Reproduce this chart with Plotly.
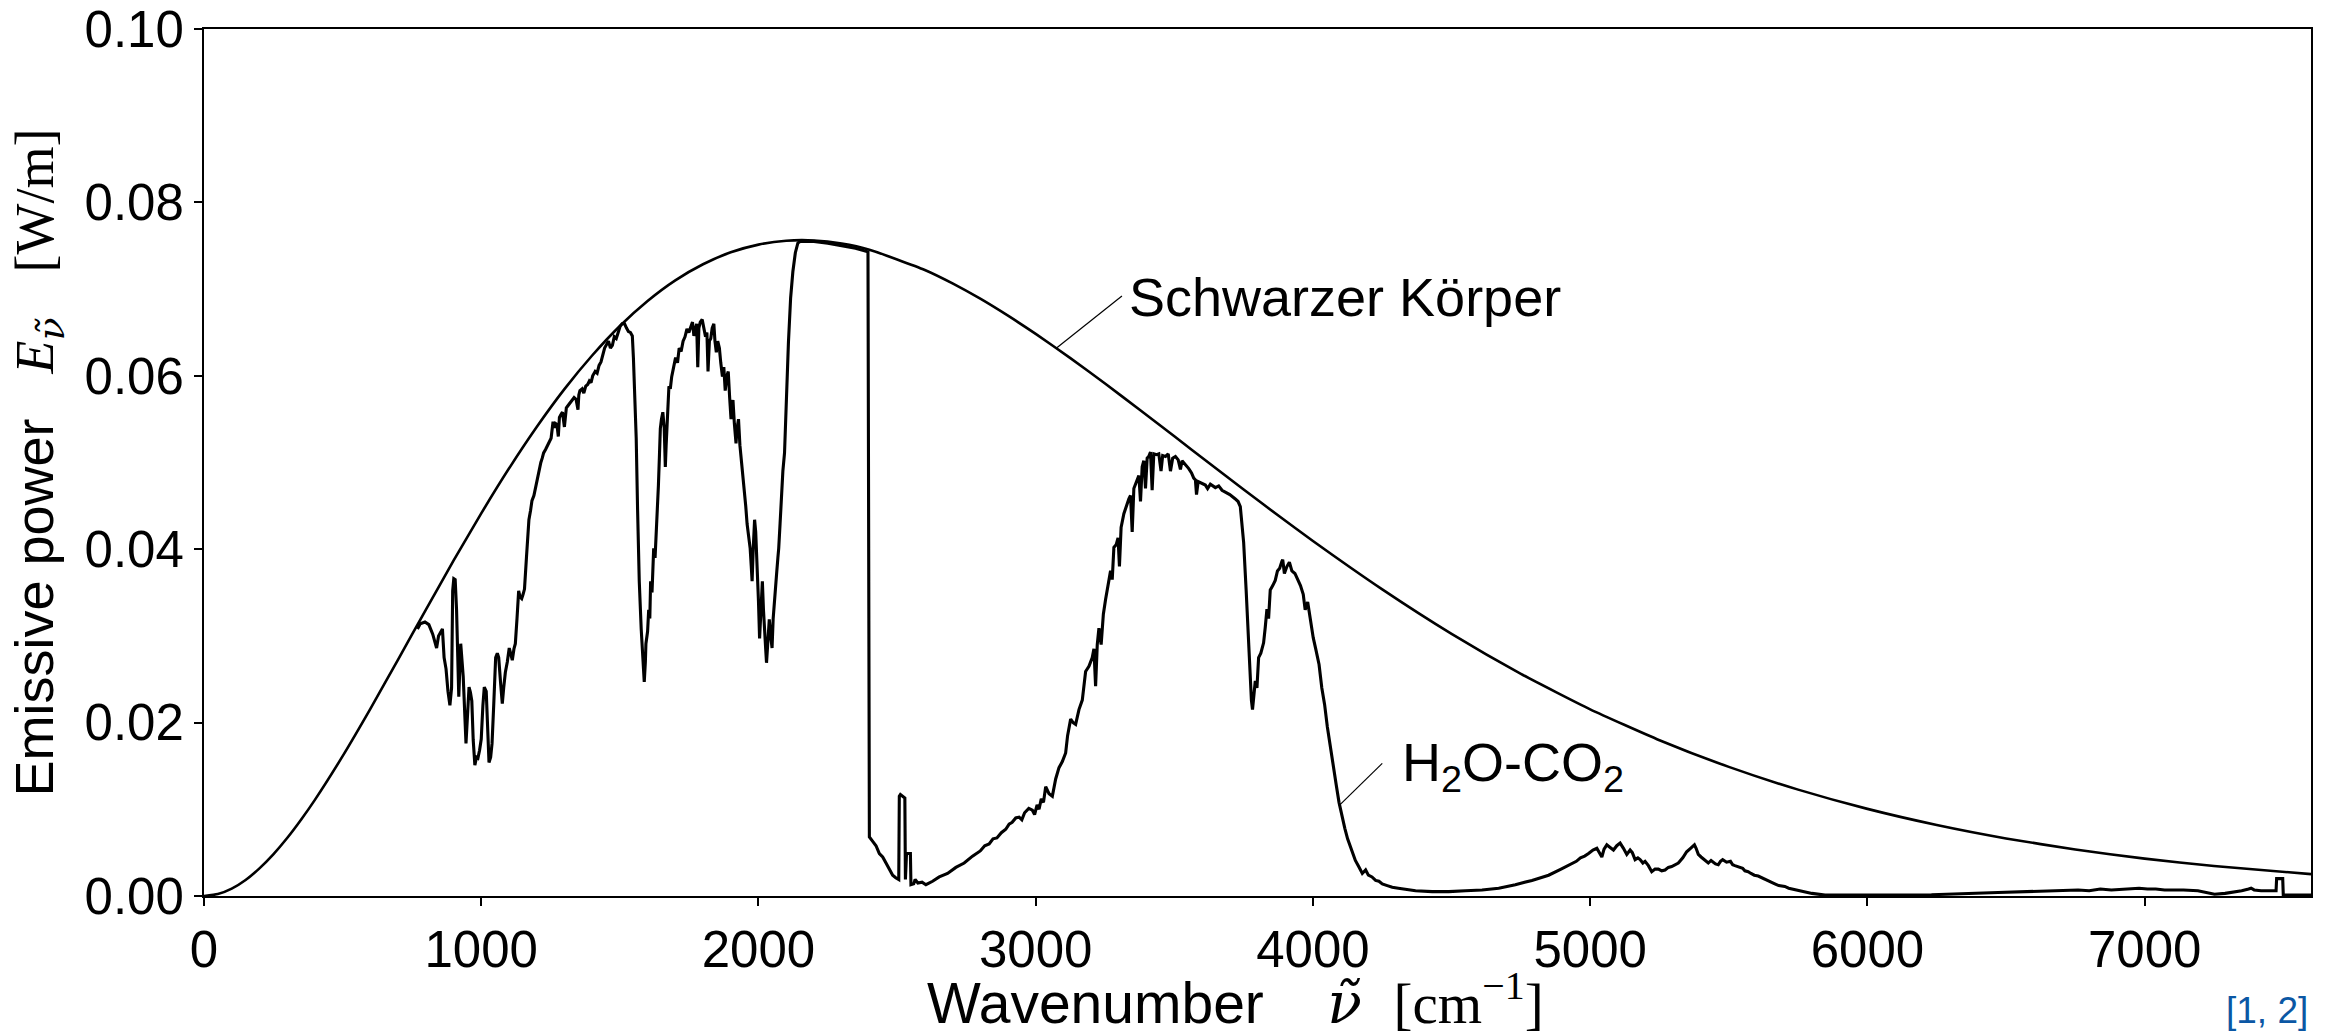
import numpy as np
import plotly.graph_objects as go

# Black body emissive power (T about 1100 K), wavenumber in cm^-1
bb_wn = [0, 50, 100, 150, 200, 250, 300, 350, 400, 500, 600, 700, 800, 900, 1000, 1100,
         1200, 1300, 1400, 1500, 1600, 1700, 1800, 1900, 2000, 2100, 2200, 2300, 2400,
         2600, 2700, 2800, 2900, 3000, 3125, 3250, 3375, 3500, 3625, 3750, 3875, 4000,
         4250, 4500, 4750, 5000, 5250, 5500, 5750, 6000, 6250, 6500, 6750, 7000, 7250,
         7600]
bb_E = [0.0, 0.00022, 0.00085, 0.00185, 0.00319, 0.00481, 0.00669, 0.00880, 0.01109,
        0.01613, 0.02158, 0.02727, 0.03301, 0.03867, 0.04413, 0.04930, 0.05409, 0.05846,
        0.06234, 0.06575, 0.06863, 0.07101, 0.07287, 0.07424, 0.07513, 0.07558, 0.07561,
        0.07526, 0.07455, 0.07221, 0.07066, 0.06889, 0.06693, 0.06483, 0.06204, 0.05911,
        0.05608, 0.05302, 0.04994, 0.04688, 0.04388, 0.04094, 0.03536, 0.03023, 0.02562,
        0.02153, 0.01797, 0.01489, 0.01227, 0.01005, 0.00819, 0.00664, 0.00536, 0.00431,
        0.00346, 0.00252]

# H2O-CO2 gas mixture emission spectrum, (wavenumber, emissive power) per band
gas_band_1000 = [
    (770, .0308), (780, .0314), (797, .0316), (811, .0313), (825, .0302), (839, .0286),
    (846, .0300), (853, .0305), (860, .0308), (866, .0275), (873, .0262), (880, .0236),
    (887, .0220), (893, .0240), (897, .0352), (901, .0366), (906, .0365), (911, .0330),
    (919, .0230), (926, .0291), (935, .0253), (945, .0176), (951, .0215), (956, .0241),
    (961, .0235), (966, .0225), (971, .0180), (977, .0151), (983, .0160), (988, .0159),
    (994, .0168), (1000, .0181), (1006, .0220), (1011, .0241), (1018, .0236), (1023, .0190),
    (1028, .0154), (1034, .0160), (1039, .0176), (1045, .0220), (1052, .0275), (1058, .0280),
    (1063, .0275), (1070, .0245), (1076, .0222), (1081, .0240), (1087, .0258), (1094, .0270),
    (1101, .0286), (1106, .0280), (1112, .0272), (1118, .0285), (1123, .0291), (1129, .0320),
    (1135, .0352), (1140, .0345), (1146, .0343), (1151, .0348), (1156, .0354)]
gas_band_1300 = [
    (1163, .0390), (1172, .0434), (1178, .0445), (1183, .0456), (1190, .0462), (1197, .0473),
    (1206, .0488), (1215, .0500), (1220, .0505), (1225, .0511), (1232, .0515), (1239, .0519),
    (1245, .0524), (1252, .0528), (1259, .0547), (1264, .0540), (1268, .0545), (1273, .0544),
    (1278, .0530), (1282, .0552), (1287, .0555), (1293, .0558), (1300, .0541), (1303, .0556),
    (1307, .0563), (1314, .0566), (1321, .0569), (1328, .0572), (1335, .0575), (1342, .0573),
    (1349, .0561), (1352, .0578), (1356, .0583), (1364, .0585), (1370, .0580), (1377, .0588),
    (1384, .0590), (1390, .0594), (1396, .0592), (1402, .0600), (1411, .0605), (1418, .0603),
    (1425, .0612), (1432, .0616), (1438, .0624), (1445, .0632), (1452, .0636), (1459, .0640),
    (1466, .0632), (1473, .0635), (1480, .0645), (1487, .0643), (1494, .0650), (1501, .0657),
    (1508, .0660), (1517, .0660), (1524, .0655), (1531, .0651), (1538, .0650), (1545, .0646)]
gas_band_1800 = [
    (1549, .0620), (1553, .0583), (1556, .0560), (1559, .0528), (1564, .0445), (1570, .0363),
    (1577, .0308), (1583, .0275), (1588, .0247), (1592, .0270), (1594, .0291), (1600, .0305),
    (1604, .0330), (1608, .0320), (1611, .0363), (1616, .0350), (1622, .0401), (1627, .0390),
    (1632, .0420), (1636, .0440), (1639, .0473), (1643, .0510), (1646, .0539), (1650, .0550),
    (1655, .0558), (1660, .0540), (1664, .0495), (1667, .0520), (1669, .0539), (1673, .0570),
    (1677, .0588), (1682, .0585), (1687, .0599), (1694, .0610), (1701, .0621), (1708, .0615),
    (1714, .0632), (1721, .0628), (1728, .0640), (1735, .0645), (1742, .0654), (1749, .0650),
    (1756, .0657), (1762, .0662), (1767, .0646), (1772, .0655), (1777, .0660), (1781, .0610),
    (1785, .0655), (1790, .0662), (1797, .0665), (1803, .0655), (1809, .0645), (1814, .0650),
    (1818, .0605), (1823, .0640), (1828, .0643), (1833, .0655), (1839, .0660), (1843, .0640),
    (1848, .0627), (1853, .0640), (1859, .0632), (1864, .0615), (1870, .0599), (1875, .0610),
    (1880, .0583), (1886, .0600), (1891, .0605), (1896, .0575), (1901, .0550), (1905, .0565),
    (1908, .0572), (1913, .0545), (1919, .0522), (1923, .0540), (1928, .0550), (1933, .0520),
    (1939, .0500), (1944, .0490), (1949, .0473), (1954, .0450), (1959, .0429), (1964, .0415),
    (1970, .0401), (1974, .0380), (1977, .0363), (1981, .0400), (1986, .0434), (1990, .0420),
    (1995, .0385), (2000, .0340), (2004, .0297), (2009, .0330), (2014, .0363), (2018, .0330),
    (2022, .0297), (2026, .0285), (2029, .0269), (2034, .0300), (2039, .0319), (2044, .0300),
    (2049, .0286), (2053, .0320), (2057, .0341), (2062, .0360), (2066, .0374), (2070, .0390),
    (2073, .0401), (2078, .0430), (2083, .0461), (2088, .0490), (2094, .0511), (2100, .0570),
    (2108, .0638), (2116, .0690), (2124, .0720), (2133, .0742), (2142, .0753)]
gas_band_2500 = [
    (2150, .0755), (2200, .0755), (2250, .0753), (2300, .0750), (2350, .0747), (2395, .0743),
    (2400, .0068), (2412, .0063), (2424, .0058), (2436, .0049), (2448, .0045), (2460, .0038),
    (2472, .0031), (2484, .0024), (2495, .0021), (2506, .0019), (2508, .0115), (2512, .0117),
    (2528, .0113), (2530, .0019), (2534, .0049), (2548, .0049), (2550, .0013), (2560, .0014),
    (2565, .0019), (2575, .0015), (2590, .0016), (2604, .0013), (2628, .0017), (2652, .0022),
    (2682, .0026), (2712, .0033), (2742, .0038), (2772, .0046), (2800, .0052), (2816, .0058),
    (2832, .0060), (2846, .0066), (2860, .0067), (2876, .0073), (2892, .0077), (2904, .0083),
    (2915, .0085), (2928, .0090), (2940, .0091), (2950, .0088), (2960, .0096), (2975, .0101),
    (2988, .0099), (2996, .0094)]
gas_band_3500 = [
    (3005, .0105), (3012, .0100), (3020, .0112), (3028, .0108), (3036, .0126), (3048, .0118),
    (3060, .0115), (3072, .0135), (3084, .0148), (3096, .0155), (3108, .0165), (3115, .0185),
    (3126, .0204), (3135, .0200), (3144, .0198), (3156, .0215), (3168, .0226), (3174, .0245),
    (3180, .0259), (3192, .0265), (3204, .0275), (3210, .0285), (3216, .0242), (3222, .0290),
    (3228, .0309), (3236, .0290), (3244, .0325), (3252, .0342), (3261, .0360), (3270, .0375),
    (3276, .0365), (3282, .0402), (3290, .0405), (3297, .0413), (3302, .0380), (3308, .0425),
    (3318, .0441), (3327, .0450), (3336, .0458), (3342, .0462), (3348, .0420), (3354, .0470),
    (3363, .0478), (3372, .0485), (3378, .0455), (3384, .0495), (3390, .0502), (3396, .0470),
    (3402, .0505), (3408, .0507), (3414, .0512), (3420, .0468), (3426, .0510), (3436, .0509),
    (3444, .0510), (3452, .0490), (3458, .0508), (3468, .0507), (3478, .0510), (3486, .0490),
    (3494, .0505), (3504, .0507), (3514, .0503), (3522, .0492), (3528, .0502), (3540, .0498),
    (3552, .0493), (3562, .0488), (3570, .0482), (3576, .0480), (3580, .0463), (3586, .0478),
    (3600, .0476), (3612, .0474), (3620, .0470), (3630, .0475), (3648, .0471), (3660, .0473),
    (3672, .0468), (3684, .0466), (3700, .0463), (3720, .0458), (3730, .0455), (3738, .0449),
    (3744, .0430), (3750, .0408), (3759, .0353), (3768, .0286), (3778, .0226), (3782, .0215),
    (3786, .0230), (3792, .0248), (3798, .0240), (3804, .0275), (3812, .0280), (3822, .0292),
    (3828, .0310), (3834, .0331), (3840, .0320), (3846, .0353), (3855, .0358), (3864, .0364),
    (3872, .0375), (3880, .0378), (3888, .0386), (3891, .0388), (3897, .0372), (3906, .0380),
    (3915, .0385), (3924, .0375), (3935, .0372), (3946, .0365), (3955, .0358), (3965, .0348),
    (3972, .0330), (3981, .0339), (3990, .0320)]
gas_band_4200 = [
    (4001, .0298), (4010, .0285), (4022, .0267), (4032, .0240), (4042, .0221), (4052, .0195),
    (4063, .0170), (4074, .0148), (4084, .0128), (4094, .0108), (4104, .0092), (4115, .0078),
    (4125, .0066), (4140, .0052), (4153, .0041), (4165, .0034), (4178, .0026), (4190, .0030),
    (4200, .0024), (4213, .0022), (4226, .0018), (4238, .0017), (4250, .0014), (4268, .0012),
    (4286, .0010), (4308, .0009), (4330, .0008), (4370, .0006), (4430, .0005), (4490, .0005)]
gas_band_5200 = [
    (4550, .0006), (4610, .0007), (4670, .0009), (4730, .0013), (4790, .0018), (4850, .0024),
    (4895, .0031), (4934, .0038), (4950, .0040), (4965, .0044), (4980, .0046), (4994, .0049),
    (5010, .0053), (5024, .0055), (5032, .0050), (5042, .0045), (5050, .0054), (5060, .0059),
    (5072, .0056), (5084, .0053), (5096, .0058), (5108, .0061), (5120, .0055), (5132, .0048),
    (5144, .0053), (5152, .0050), (5162, .0042), (5172, .0044), (5180, .0042), (5190, .0038),
    (5198, .0040), (5210, .0035), (5222, .0028), (5234, .0031), (5246, .0031), (5258, .0029),
    (5270, .0030), (5282, .0033), (5294, .0034), (5306, .0036), (5318, .0038), (5334, .0044),
    (5348, .0051), (5362, .0055), (5376, .0059), (5382, .0055), (5390, .0048), (5400, .0045),
    (5410, .0042), (5418, .0040), (5426, .0038), (5436, .0041), (5444, .0039), (5452, .0037),
    (5462, .0036), (5470, .0040), (5478, .0042), (5492, .0039), (5506, .0040), (5514, .0036),
    (5522, .0035), (5530, .0034), (5540, .0033), (5550, .0032), (5558, .0029), (5570, .0028),
    (5580, .0026), (5592, .0024), (5606, .0023), (5618, .0021), (5630, .0019), (5642, .0018),
    (5654, .0016), (5666, .0014), (5680, .0012), (5702, .0011), (5716, .0009), (5730, .0008),
    (5751, .0006)]
gas_band_7000 = [
    (5800, .0003), (5847, .0001), (5991, .0001), (6231, .00015), (6471, .0004), (6600, .0005),
    (6712, .0006), (6760, .0007), (6800, .0006), (6840, .0008), (6880, .0007), (6920, .0008),
    (6952, .0008), (6980, .0009), (7010, .0008), (7040, .0008), (7072, .0007), (7105, .0007),
    (7140, .0007), (7192, .0006), (7220, .0004), (7252, .0002), (7290, .0003), (7312, .0004),
    (7350, .0006), (7375, .0008), (7384, .0009), (7395, .0007), (7420, .0006), (7474, .0006),
    (7476, .0020), (7498, .0020), (7500, .0001), (7520, .0001), (7600, .0001)]

gas_points = (gas_band_1000 + gas_band_1300 + gas_band_1800 + gas_band_2500 +
              gas_band_3500 + gas_band_4200 + gas_band_5200 + gas_band_7000)
gas_wn = [p[0] for p in gas_points]
gas_E = [p[1] for p in gas_points]

x_ticks = [0, 1000, 2000, 3000, 4000, 5000, 6000, 7000]
y_ticks = [0.0, 0.02, 0.04, 0.06, 0.08, 0.10]
y_ticktext = ["0.00", "0.02", "0.04", "0.06", "0.08", "0.10"]

SANS = "Liberation Sans, Arial, sans-serif"
SERIF = "Liberation Serif, Times New Roman, serif"
MATH = "DejaVu Serif, serif"
NB = "\u00a0"

fig = go.Figure()
fig.add_trace(go.Scatter(x=bb_wn, y=bb_E, mode="lines", name="Schwarzer Körper",
                         line=dict(color="black", width=2.6, shape="spline", smoothing=0.5)))
fig.add_trace(go.Scatter(x=gas_wn, y=gas_E, mode="lines", name="H2O-CO2",
                         line=dict(color="black", width=3.1)))

# leader lines from the curves to their labels
bb_label_wn = 3074
bb_label_y = float(np.interp(bb_label_wn, bb_wn, bb_E))
gas_label_wn = 4096
gas_label_y = float(np.interp(gas_label_wn, gas_wn, gas_E))
fig.add_shape(type="line", xref="x", yref="y", x0=bb_label_wn, y0=bb_label_y,
              x1=3311, y1=0.0692, line=dict(color="black", width=1.2))
fig.add_shape(type="line", xref="x", yref="y", x0=gas_label_wn, y0=gas_label_y,
              x1=4250, y1=0.0153, line=dict(color="black", width=1.2))

fig.add_annotation(x=3330, y=0.0691, xref="x", yref="y", text="Schwarzer Körper",
                   showarrow=False, xanchor="left", yanchor="middle",
                   font=dict(family=SANS, size=54, color="black"))
fig.add_annotation(x=4315, y=0.0150, xref="x", yref="y",
                   text="H<sub>2</sub>O-CO<sub>2</sub>",
                   showarrow=False, xanchor="left", yanchor="middle",
                   font=dict(family=SANS, size=54, color="black"))
fig.add_annotation(x=0.9995, y=-0.132, xref="paper", yref="paper", text="[1, 2]",
                   showarrow=False, xanchor="right", yanchor="middle",
                   font=dict(family=SANS, size=37, color="#0b57a4"))

# axis titles: sans text with serif math parts
x_title = ("Wavenumber" + NB * 4 +
           f"<span style='font-family:{MATH}'><i>ν̃</i></span>" + NB * 2 +
           f"<span style='font-family:{SERIF}'>[cm<sup>−1</sup>]</span>")
y_title = ("Emissive power" + NB * 3 +
           f"<span style='font-family:{SERIF}'><i>E</i></span>"
           f"<sub><span style='font-family:{MATH}'><i>ν̃</i></span></sub>" + NB * 3 +
           f"<span style='font-family:{SERIF}'>[W/m]</span>")

# x axis title placed as a paper annotation (slightly left of the axis centre)
fig.add_annotation(x=0.4895, y=-0.1195, xref="paper", yref="paper", text=x_title,
                   showarrow=False, xanchor="center", yanchor="middle",
                   font=dict(family=SANS, size=57, color="black"))

axis_common = dict(showline=True, linecolor="black", linewidth=2, mirror=True,
                   ticks="outside", ticklen=8, tickwidth=1.6, tickcolor="black",
                   showgrid=False, zeroline=False, automargin=False,
                   tickfont=dict(family=SANS, size=51, color="black"))

fig.update_xaxes(range=[0, 7600], tickvals=x_ticks, **axis_common)
fig.update_yaxes(range=[0, 0.1], tickvals=y_ticks, ticktext=y_ticktext, **axis_common,
                 title=dict(text=y_title, font=dict(family=SANS, size=54, color="black"),
                            standoff=14))

fig.update_layout(width=2333, height=1031, showlegend=False,
                  margin=dict(l=204, r=22, t=29, b=135),
                  plot_bgcolor="white", paper_bgcolor="white",
                  font=dict(family=SANS, color="black"))

fig.write_html("out.html")
